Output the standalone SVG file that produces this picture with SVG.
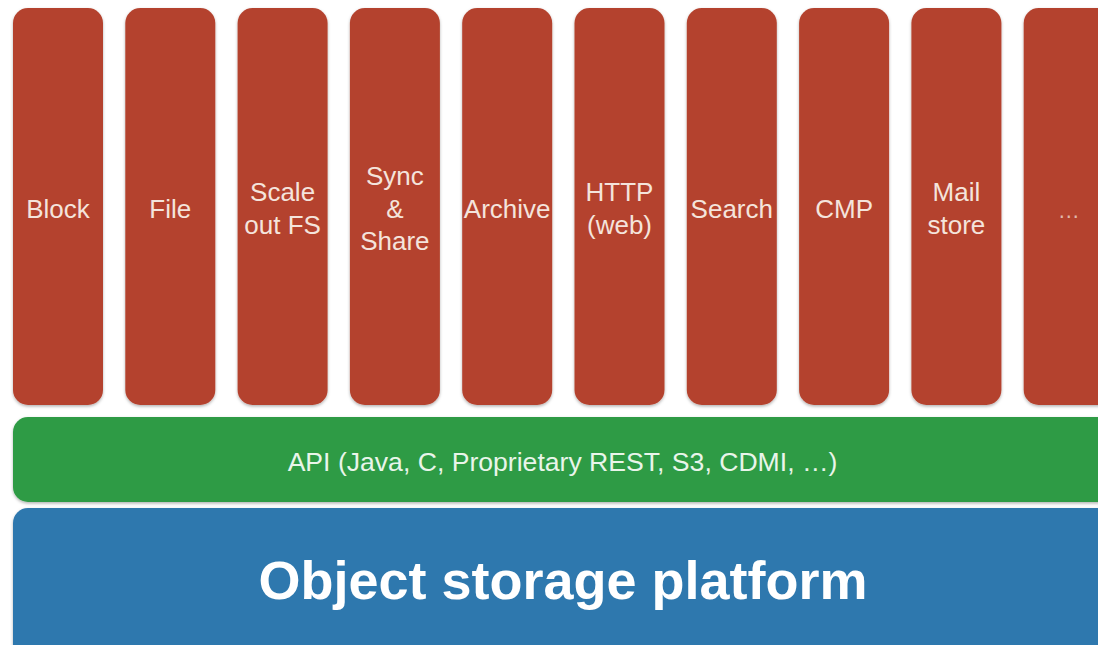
<svg xmlns="http://www.w3.org/2000/svg" width="1098" height="645" viewBox="0 0 1098 645">
<defs>
<filter id="sh" x="-10%" y="-10%" width="120%" height="120%">
<feDropShadow dx="0" dy="1.5" stdDeviation="1.5" flood-color="#000" flood-opacity="0.3"/>
</filter>
<style>
.col{fill:#b4432f;filter:url(#sh)}
.lbl{font-family:"Liberation Sans",Arial,sans-serif;font-size:26px;fill:#f4e4dc;text-anchor:middle}
.api{fill:#2e9b45;filter:url(#sh)}
.apit{font-family:"Liberation Sans",Arial,sans-serif;font-size:26.6px;fill:#e9f5ea;text-anchor:middle}
.plat{fill:#2f78ae;filter:url(#sh)}
.platt{font-family:"Liberation Sans",Arial,sans-serif;font-size:54px;font-weight:bold;fill:#ffffff;text-anchor:middle}
</style>
</defs>
<rect width="1098" height="645" fill="#ffffff"/>
<g id="block"><rect class="col" x="13" y="8" width="90" height="397" rx="15"/><text class="lbl" x="58" y="218">Block</text></g>
<g id="file"><rect class="col" x="125.3" y="8" width="90" height="397" rx="15"/><text class="lbl" x="170.3" y="218">File</text></g>
<g id="scaleout"><rect class="col" x="237.6" y="8" width="90" height="397" rx="15"/><text class="lbl" x="282.6" y="201">Scale</text><text class="lbl" x="282.6" y="234">out FS</text></g>
<g id="sync"><rect class="col" x="349.9" y="8" width="90" height="397" rx="15"/><text class="lbl" x="394.9" y="185">Sync</text><text class="lbl" x="394.9" y="218">&amp;</text><text class="lbl" x="394.9" y="250">Share</text></g>
<g id="archive"><rect class="col" x="462.2" y="8" width="90" height="397" rx="15"/><text class="lbl" x="507.2" y="218">Archive</text></g>
<g id="http"><rect class="col" x="574.5" y="8" width="90" height="397" rx="15"/><text class="lbl" x="619.5" y="201">HTTP</text><text class="lbl" x="619.5" y="234">(web)</text></g>
<g id="search"><rect class="col" x="686.8" y="8" width="90" height="397" rx="15"/><text class="lbl" x="731.8" y="218">Search</text></g>
<g id="cmp"><rect class="col" x="799.1" y="8" width="90" height="397" rx="15"/><text class="lbl" x="844.1" y="218">CMP</text></g>
<g id="mail"><rect class="col" x="911.4" y="8" width="90" height="397" rx="15"/><text class="lbl" x="956.4" y="201">Mail</text><text class="lbl" x="956.4" y="234">store</text></g>
<g id="more"><rect class="col" x="1023.7" y="8" width="90" height="397" rx="15"/><text class="lbl" x="1068.7" y="218" style="font-size:22px;fill:#e0b8ac">…</text></g>
<g id="api"><rect class="api" x="13" y="417" width="1110" height="85" rx="15"/><text class="apit" x="562.5" y="471">API (Java, C, Proprietary REST, S3, CDMI, …)</text></g>
<g id="platform"><rect class="plat" x="13" y="508" width="1110" height="160" rx="15"/><text class="platt" x="563" y="599">Object storage platform</text></g>
<g id="connectors"></g>
</svg>
